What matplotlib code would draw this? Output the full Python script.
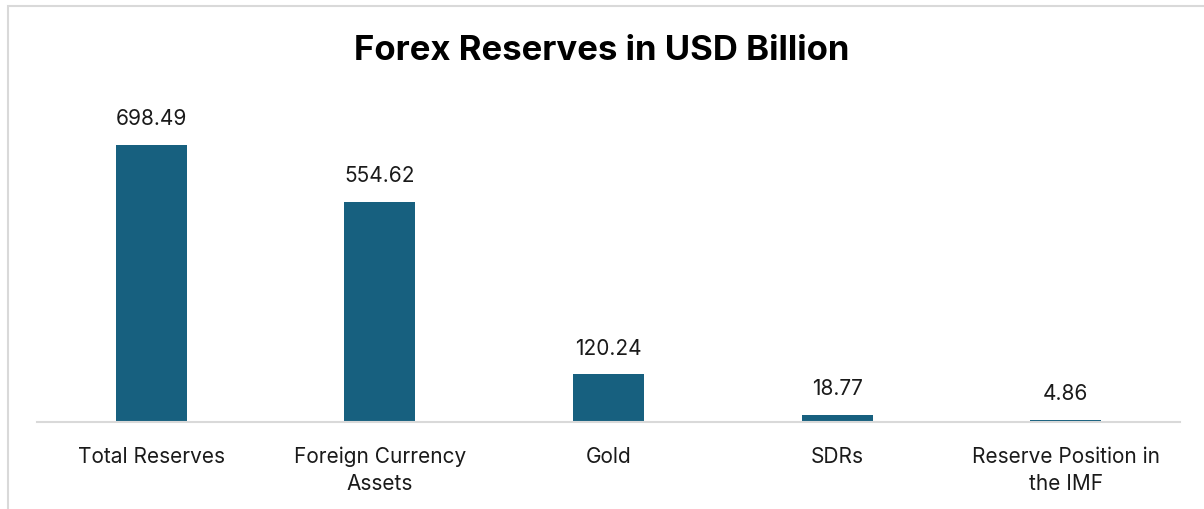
import matplotlib.pyplot as plt
from matplotlib.patches import Rectangle

# Chart data
categories = ['Total Reserves', 'Foreign Currency\nAssets', 'Gold', 'SDRs', 'Reserve Position in\nthe IMF']
values = [698.49, 554.62, 120.24, 18.77, 4.86]
value_labels = ['698.49', '554.62', '120.24', '18.77', '4.86']

bar_color = '#17607F'
plt.rcParams['font.family'] = ['Inter', 'DejaVu Sans']

fig = plt.figure(figsize=(12.04, 5.1), dpi=100)
W, H = 1204, 510

# outer chart border (cropped at right/bottom like the reference)
fig.patches.append(Rectangle((8 / W, -0.1), 1.2, (H - 7) / H + 0.1, transform=fig.transFigure,
                             fill=False, edgecolor='#D9D9D9', linewidth=1.5))

# axes placed in pixel coords: x 37..1180, y 90..423 (from top)
ax = fig.add_axes([37 / W, (H - 423) / H, (1180 - 37) / W, (423 - 90) / H])
x = list(range(len(categories)))
ax.bar(x, values, width=0.31, color=bar_color)
ax.set_xlim(-0.5, 4.5)
ax.set_ylim(0, 840)

for xi, v, lab in zip(x, values, value_labels):
    ax.annotate(lab, (xi, v), xytext=(0, 12), textcoords='offset points',
                ha='center', va='bottom', fontsize=15, color='#1a1a1a')

for s in ['top', 'right', 'left']:
    ax.spines[s].set_visible(False)
ax.spines['bottom'].set_color('#D9D9D9')
ax.spines['bottom'].set_linewidth(1.5)
ax.set_yticks([])
ax.set_xticks(x)
ax.set_xticklabels(categories, fontsize=15, color='#1a1a1a', linespacing=1.45)
ax.tick_params(axis='x', length=0, pad=17)

fig.text(0.5, (H - 51) / H, 'Forex Reserves in USD Billion', ha='center', va='center',
         fontsize=25, fontweight='bold', color='black')

plt.savefig('out.png', dpi=100, facecolor='white')
